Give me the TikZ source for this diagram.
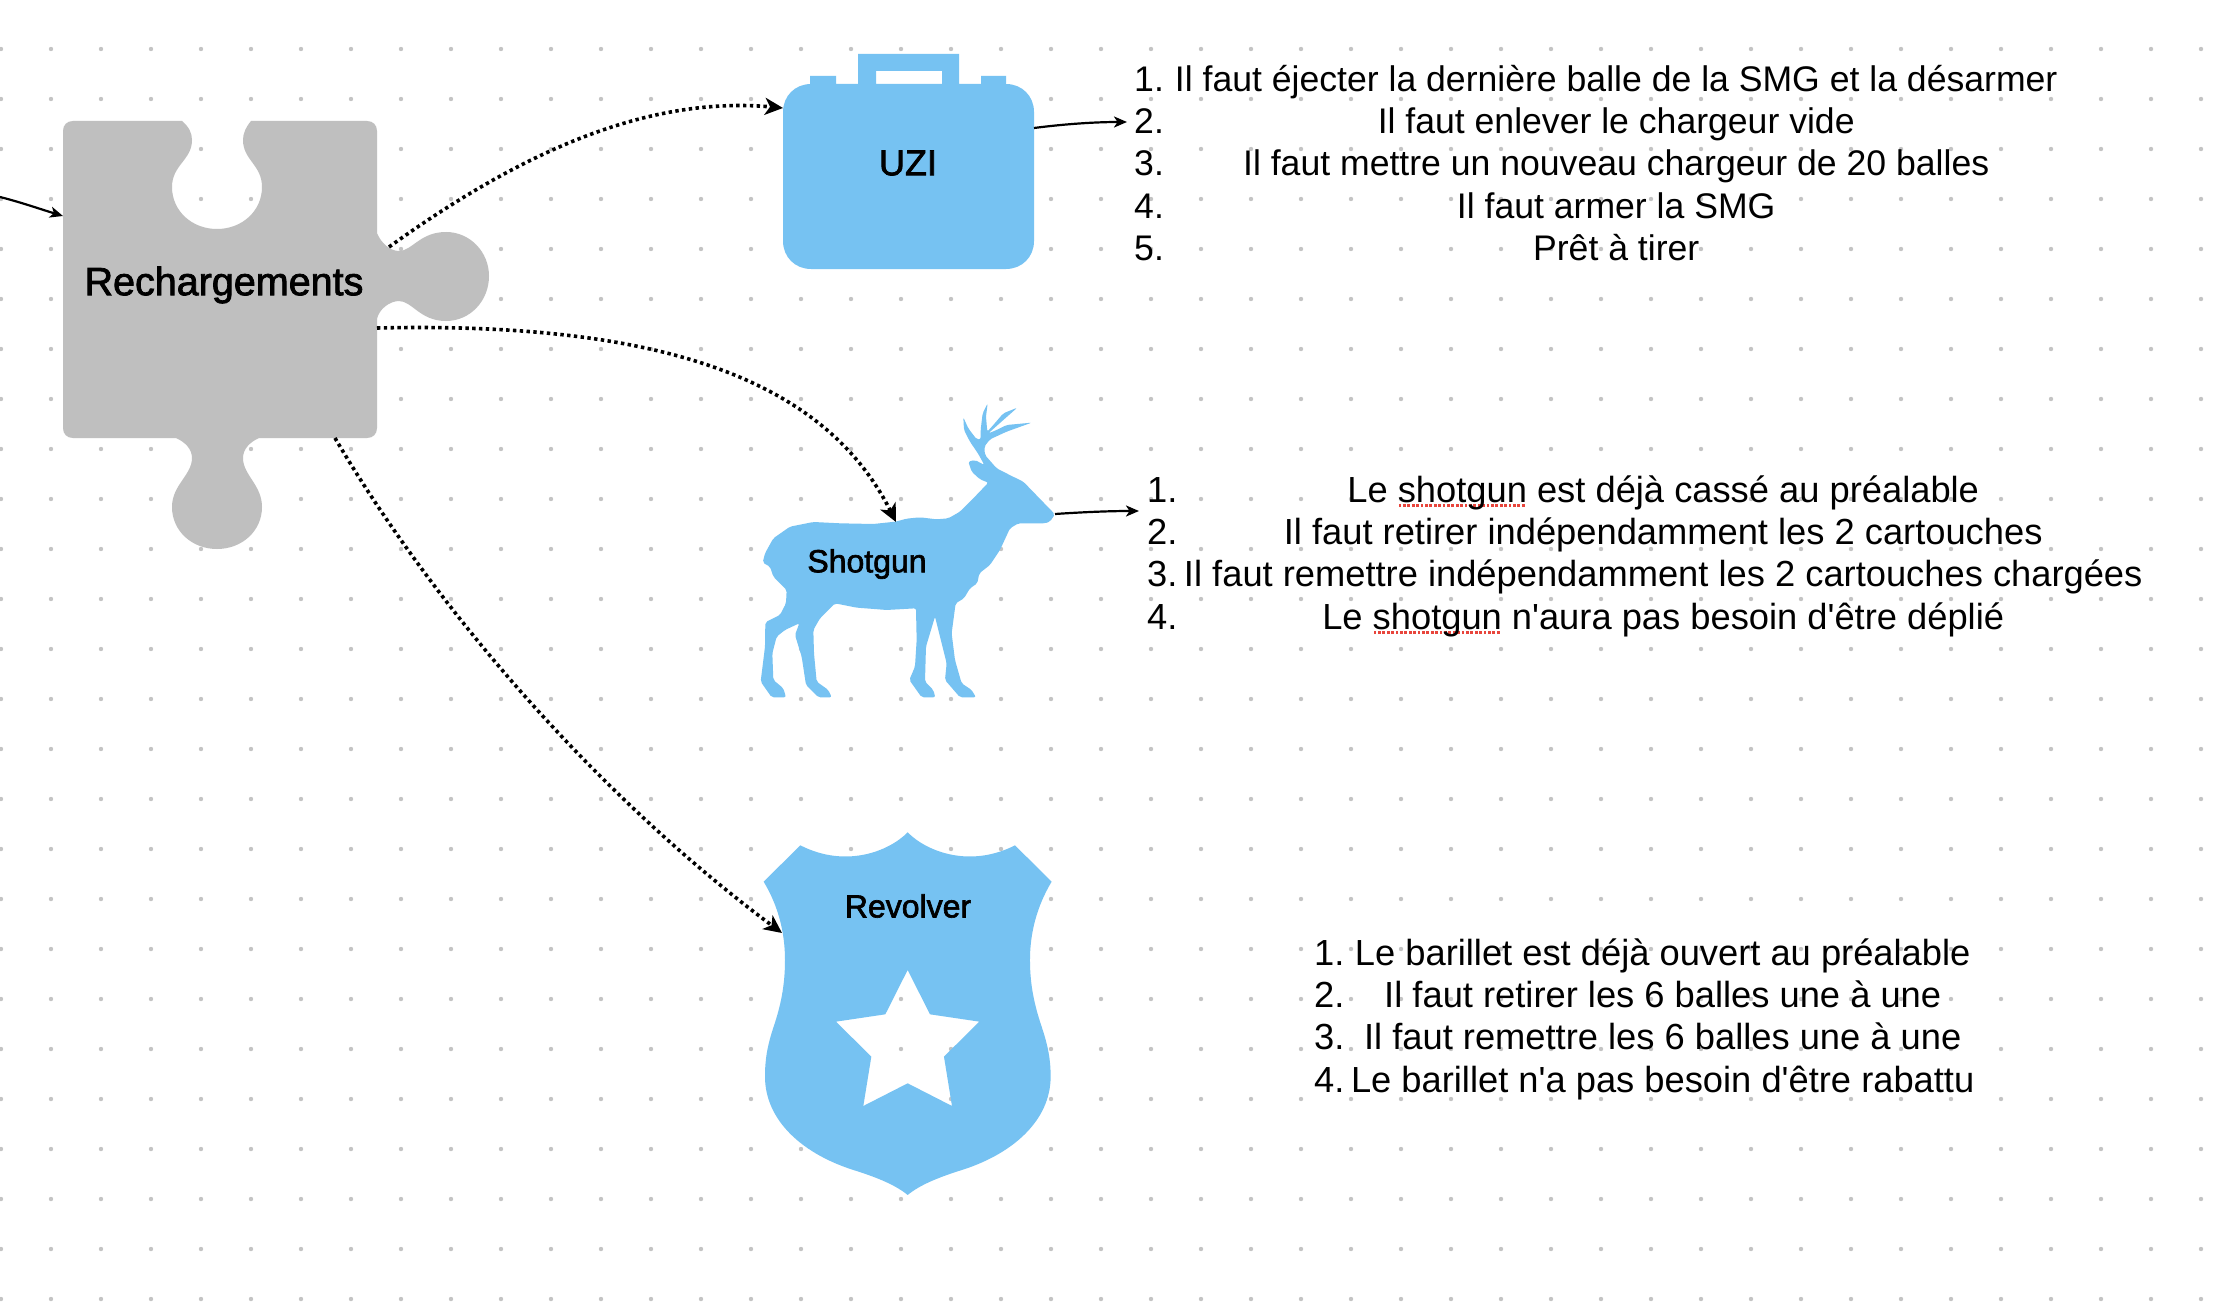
\documentclass[tikz,border=0pt]{standalone}
\usepackage{fontspec}
\setmainfont{Liberation Sans}
\newfontfamily\medfont[FakeBold=2]{Liberation Sans}
\newfontfamily\listfont{Liberation Sans}
\usetikzlibrary{arrows.meta, positioning}

\definecolor{iconblue}{HTML}{76C2F2}
\definecolor{piecegray}{HTML}{BFBFBF}
\definecolor{griddot}{HTML}{C4C4C4}
\definecolor{spellred}{HTML}{E8453C}

\newlength{\numwd}
\newlength{\linewd}
% number at the left, text centred in what is left
\newcommand{\li}[2]{\makebox[\numwd][l]{#1}\makebox[\linewd][c]{#2}}
\newsavebox{\spellbox}
\newcommand{\spellerr}[1]{\sbox{\spellbox}{#1}\rlap{\textcolor{spellred}{\raisebox{-5pt}{\hbox to \wd\spellbox{\leaders\hbox{\kern.8pt\rule{2.8pt}{3pt}\kern.8pt}\hfil}}}}#1}

\tikzset{
	iconfill/.style={fill=iconblue, draw=none},
	piecefill/.style={fill=piecegray, draw=none},
	dotlink/.style={line width=3.6pt, dash pattern=on 3.4pt off 3.4pt, -{Stealth[length=18pt,width=17pt,inset=5pt]}},
	thinlink/.style={line width=2.2pt, -{Stealth[length=13pt,width=11pt,inset=3.5pt]}},
	biglabel/.style={inner sep=0pt, font=\medfont\fontsize{39.5}{41}\selectfont},
	iconlabel/.style={inner sep=0pt, font=\medfont\fontsize{32}{34}\selectfont},
	steplist/.style={inner sep=0pt, anchor=west, align=left, font=\listfont\fontsize{36.3}{42.4}\selectfont}
}

\begin{document}
\begin{tikzpicture}[x=1pt, y=-1pt]
	\useasboundingbox (0,0) rectangle (2222,1316);
	\fill[white] (0,0) rectangle (2222,1316);

	% dot grid
	\foreach \i in {0,...,44}
		\foreach \j in {0,...,25}
			\fill[griddot] (1+50*\i,49+50*\j) circle (2.2);

	% puzzle piece
	\fill[piecefill] (73,121) -- (182,121) .. controls (189,127) and (192,133) .. (192,140)
		.. controls (192,160) and (172,165) .. (172,187)
		.. controls (172,211) and (192,229) .. (217,229)
		.. controls (242,229) and (262,211) .. (262,187)
		.. controls (262,165) and (243,160) .. (243,140)
		.. controls (243,133) and (246,127) .. (251,121)
		-- (367,121) .. controls (373,121) and (377,125) .. (377,131)
		-- (377,233) .. controls (381,243) and (390,251) .. (399,251)
		.. controls (412,251) and (420,232) .. (446,232)
		.. controls (470,232) and (489,252) .. (489,276)
		.. controls (489,301) and (470,321) .. (446,321)
		.. controls (420,321) and (412,301) .. (399,301)
		.. controls (390,301) and (379,309) .. (377,319)
		-- (377,428) .. controls (377,434) and (373,438) .. (367,438)
		-- (259,438) .. controls (250,442) and (243,449) .. (243,458)
		.. controls (243,475) and (262,485) .. (262,507)
		.. controls (262,531) and (242,549) .. (217,549)
		.. controls (192,549) and (172,531) .. (172,507)
		.. controls (172,485) and (192,475) .. (192,458)
		.. controls (192,449) and (185,442) .. (176,438)
		-- (73,438) .. controls (67,438) and (63,434) .. (63,428)
		-- (63,131) .. controls (63,125) and (67,121) .. (73,121) -- cycle;
	\node[biglabel] (rechargements) at (224,285) {Rechargements};

	% briefcase
	\fill[iconfill, even odd rule] (813,84) -- (810,84) -- (810,76) -- (836,76) -- (836,84) -- (858,84) -- (858,54) -- (959,54) -- (959,84)
		-- (981,84) -- (981,76) -- (1006,76) -- (1006,84)
		.. controls (1022,84) and (1034,96) .. (1034,112) -- (1034,241)
		.. controls (1034,257) and (1022,269) .. (1006,269) -- (811,269)
		.. controls (795,269) and (783,257) .. (783,241) -- (783,112)
		.. controls (783,96) and (795,84) .. (811,84) -- cycle
		(876,71) rectangle (942,84);
	\node[iconlabel, font=\medfont\fontsize{36}{38}\selectfont] (uzi) at (908,163) {UZI};

	% deer, traced
	\begin{scope}[shift={(740,380)}, x=.3333pt, y=-.3333pt]
	\fill[iconfill, rounded corners=2pt] (945,403) -- (850,305) -- (815,288) -- (770,265) -- (735,225) -- (733,200)
		-- (750,178) -- (800,155) -- (875,128) -- (800,135) -- (770,150) -- (745,160) -- (790,120) -- (832,83)
		-- (790,100) -- (760,135) -- (742,155) -- (738,110) -- (743,70) -- (728,100) -- (722,150) -- (722,178)
		-- (710,178) -- (685,145) -- (670,112) -- (672,150) -- (690,185) -- (715,222) -- (733,255)
		-- (705,240) -- (685,245) -- (695,275) -- (720,298) -- (745,308)
		-- (700,355) -- (660,395) -- (625,415) -- (590,418) -- (540,412) -- (500,416) -- (467,425)
		-- (400,432) -- (300,430) -- (220,426) -- (150,440) -- (100,475) -- (75,520) -- (68,548) -- (90,560)
		-- (100,590) -- (140,630) -- (138,670) -- (120,705) -- (76,727) -- (75,800) -- (62,905) -- (95,952)
		-- (138,952) -- (130,925) -- (100,900) -- (97,820) -- (110,770) -- (135,750) -- (178,730) -- (165,765)
		-- (185,830) -- (198,915) -- (235,952) -- (275,952) -- (265,930) -- (230,905) -- (222,820) -- (220,750)
		-- (240,715) -- (285,670) -- (350,683) -- (440,690) -- (528,685) -- (530,780) -- (525,860) -- (508,900)
		-- (545,952) -- (586,952) -- (580,930) -- (555,905) -- (558,800) -- (585,710) -- (620,850) -- (615,900)
		-- (660,952) -- (708,952) -- (695,930) -- (665,910) -- (645,840) -- (635,760) -- (647,670) -- (672,655)
		-- (690,625) -- (712,610) -- (718,580) -- (750,555) -- (780,510) -- (810,445) -- (835,430) -- (915,430)
		-- (930,425) -- cycle;
	\end{scope}
	\node[iconlabel] (shotgun) at (867,564) {Shotgun};

	% badge with the star cut out
	\begin{scope}[shift={(740,820)}, x=.3333pt, y=-.3333pt]
	\fill[iconfill, even odd rule] (503,37) .. controls (560,95) and (690,145) .. (825,76) -- (935,185)
		.. controls (890,260) and (870,340) .. (870,420) .. controls (870,500) and (885,560) .. (905,620)
		.. controls (925,680) and (932,720) .. (932,770) .. controls (932,900) and (820,1005) .. (650,1055)
		.. controls (590,1075) and (540,1095) .. (503,1125)
		.. controls (466,1095) and (416,1075) .. (356,1055) .. controls (186,1005) and (75,900) .. (75,770)
		.. controls (75,720) and (81,680) .. (101,620) .. controls (121,560) and (135,500) .. (135,420)
		.. controls (135,340) and (116,260) .. (71,185) -- (181,76) .. controls (316,145) and (446,95) .. (503,37) -- cycle
		(503,450) -- (570,583) -- (718,605) -- (612,710) -- (636,858) -- (503,790) -- (370,858) -- (394,710) -- (288,605) -- (436,583) -- cycle;
	\end{scope}
	\node[iconlabel] (revolver) at (908,906) {Revolver};

	% step lists
	\setlength{\numwd}{37pt}\setlength{\linewd}{890pt}
	\node[steplist, font=\listfont\fontsize{35.6}{42.4}\selectfont] (uziSteps) at (1134,163) {%
		\li{1.}{Il faut éjecter la dernière balle de la SMG et la désarmer}\\
		\li{2.}{Il faut enlever le chargeur vide}\\
		\li{3.}{Il faut mettre un nouveau chargeur de 20 balles}\\
		\li{4.}{Il faut armer la SMG}\\
		\li{5.}{Prêt à tirer}};
	\setlength{\numwd}{34pt}\setlength{\linewd}{964pt}
	\node[steplist] (shotgunSteps) at (1147,556) {%
		\li{1.}{Le \spellerr{shotgun} est déjà cassé au préalable}\\
		\li{2.}{Il faut retirer indépendamment les 2 cartouches}\\
		\li{3.}{Il faut remettre indépendamment les 2 cartouches chargées}\\
		\li{4.}{Le \spellerr{shotgun} n'aura pas besoin d'être déplié}};
	\setlength{\numwd}{34pt}\setlength{\linewd}{629pt}
	\node[steplist] (revolverSteps) at (1314,1019) {%
		\li{1.}{Le barillet est déjà ouvert au préalable}\\
		\li{2.}{Il faut retirer les 6 balles une à une}\\
		\li{3.}{Il faut remettre les 6 balles une à une}\\
		\li{4.}{Le barillet n'a pas besoin d'être rabattu}};

	% attachment points on the shapes
	\coordinate (entry) at (0,197);
	\coordinate (pieceIn) at (63,216);
	\coordinate (pieceTab) at (389,247);
	\coordinate (pieceEast) at (377,328);
	\coordinate (pieceSouth) at (335,438);
	\coordinate (uziWest) at (783,108);
	\coordinate (deerBack) at (896,522);
	\coordinate (badgeWest) at (782,933);
	\coordinate (uziEast) at (1034,128);
	\coordinate (uziStepsIn) at (1127,122);
	\coordinate (deerNose) at (1055,514);
	\coordinate (shotgunStepsIn) at (1139,511);

	\draw[thinlink] (entry) .. controls (20,202) and (40,209) .. (pieceIn);
	\draw[dotlink] (pieceTab) .. controls (510,160) and (640,95) .. (uziWest);
	\draw[dotlink] (pieceEast) .. controls (640,322) and (820,370) .. (deerBack);
	\draw[dotlink] (pieceSouth) .. controls (430,600) and (590,790) .. (badgeWest);
	\draw[thinlink] (uziEast) .. controls (1065,124) and (1095,122) .. (uziStepsIn);
	\draw[thinlink] (deerNose) .. controls (1085,512) and (1110,511) .. (shotgunStepsIn);
\end{tikzpicture}
\end{document}
